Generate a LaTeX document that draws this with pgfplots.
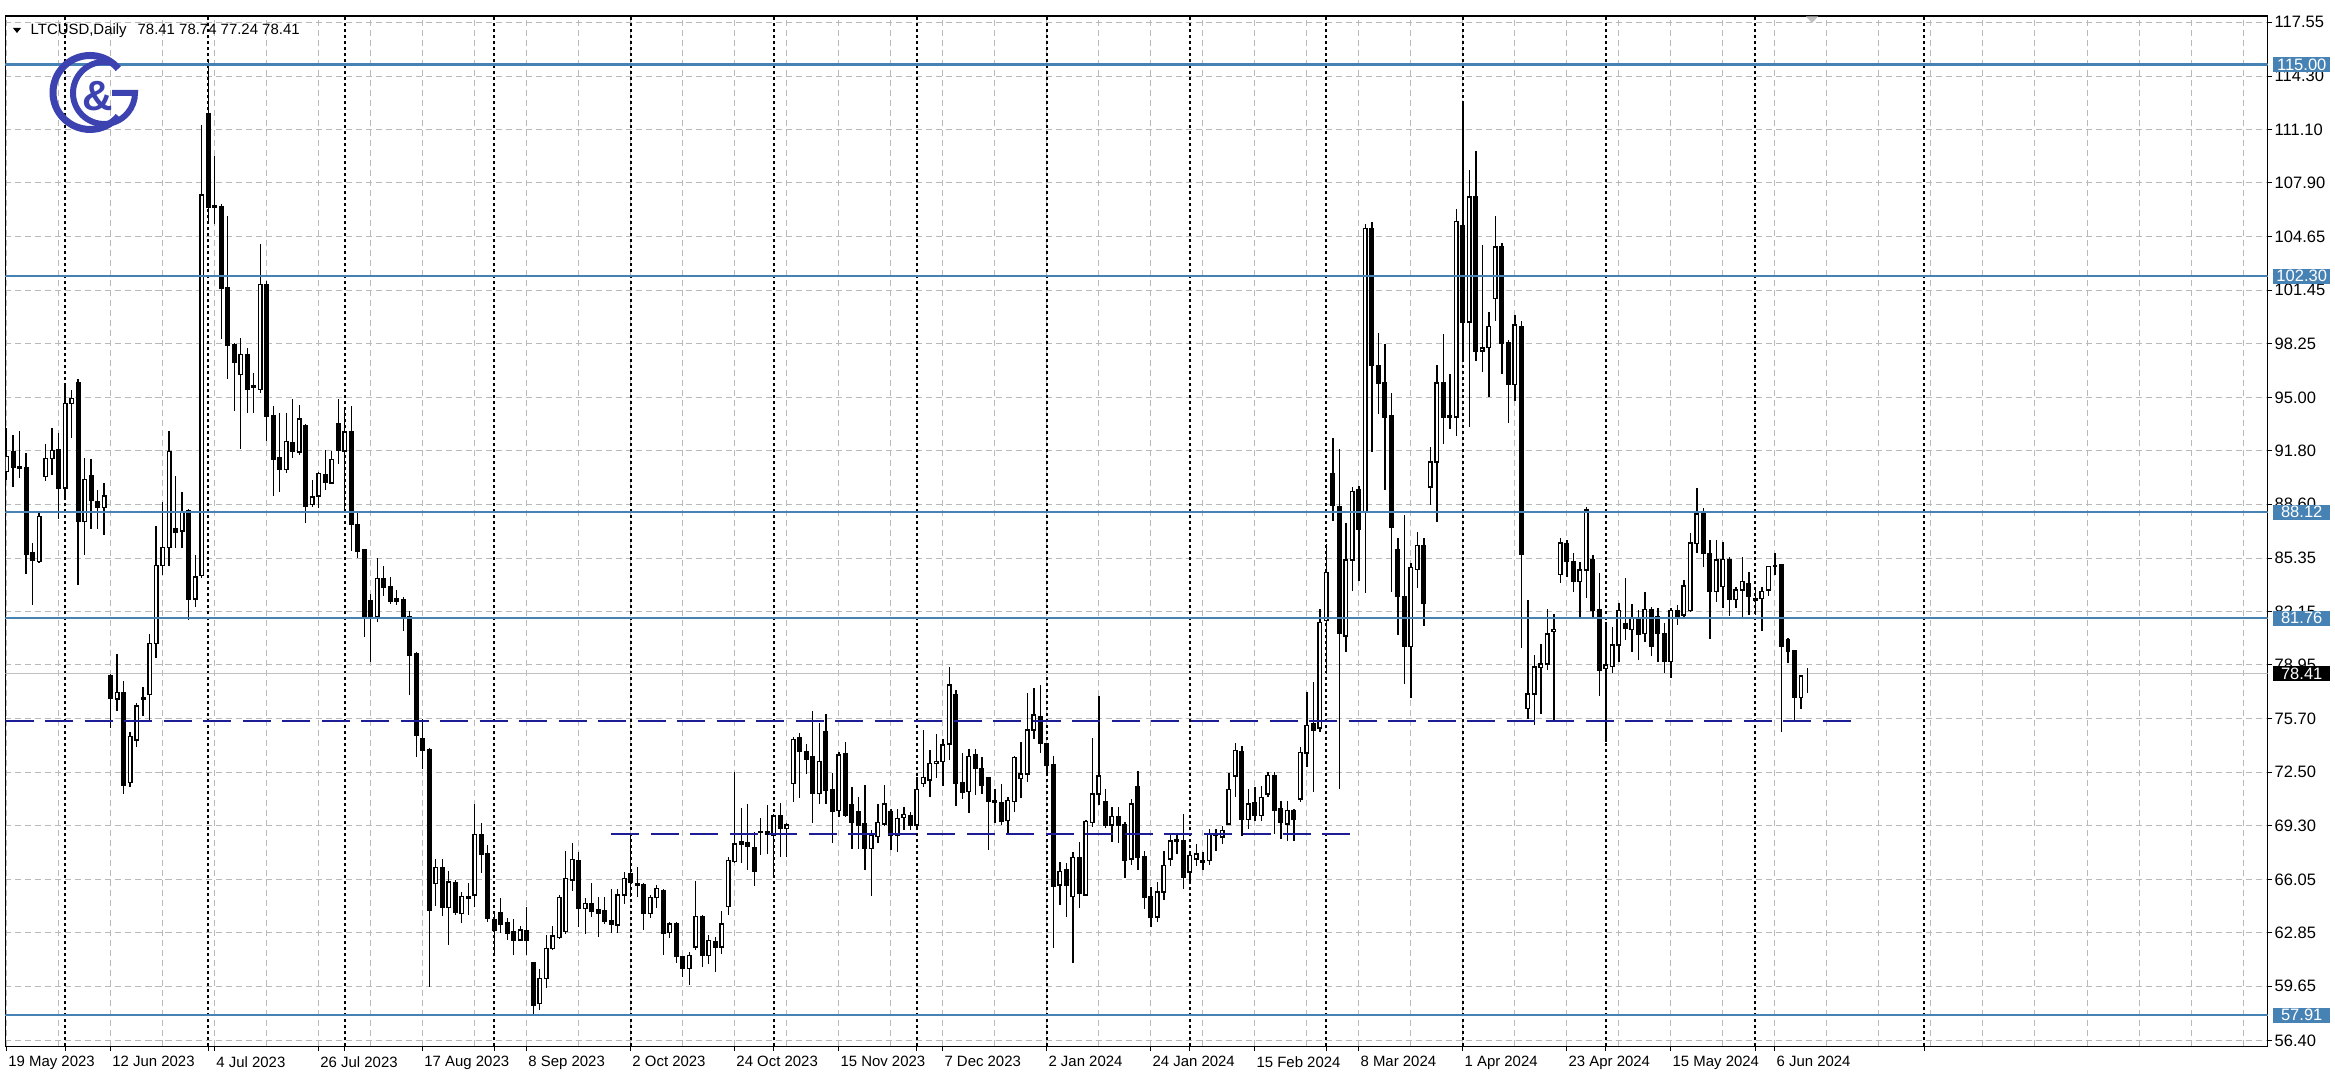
\documentclass[border=0pt]{standalone}
\usepackage{fontspec}
\setmainfont{Liberation Sans}
\usepackage{pgfplots}
\usepackage{pgfplotstable}
\pgfplotsset{compat=1.18}

\definecolor{lvl}{RGB}{70,130,180}
\definecolor{trend}{RGB}{28,28,150}
\definecolor{gridc}{RGB}{185,185,185}
\definecolor{logo}{RGB}{60,66,176}
\definecolor{lastp}{RGB}{192,192,192}
\newcommand{\mtfont}{\fontsize{4.25}{5}\selectfont}
\newcommand{\pxfont}{\fontsize{4.7}{5}\selectfont}

\pgfplotsset{
    frame/.style={at={(0,0)}, anchor=south west, scale only axis,
        width=226.22mm, height=103.05mm,
        xmin=-0.18, xmax=347.8, ymin=56.03, ymax=117.92},
}

% daily bars, index = trading day from 19 May 2023
\pgfplotstableread{
i o h l c
0 90.58 93.17 90.07 91.46
1 91.75 92.73 89.63 90.81
2 90.87 93.00 90.20 90.75
3 90.81 91.70 84.38 85.56
4 85.70 86.24 82.55 85.20
5 85.15 88.16 85.06 87.86
6 90.28 92.23 90.00 91.34
7 91.34 93.17 90.37 91.84
8 91.90 92.88 87.72 89.57
9 89.57 95.83 89.04 94.65
10 94.65 95.47 92.58 94.94
11 95.88 96.12 83.73 87.57
12 87.57 91.40 85.56 90.07
13 90.34 91.34 87.12 88.81
14 88.75 89.48 87.12 88.40
15 88.40 89.87 86.74 89.10
16 78.27 78.42 75.18 76.95
17 76.90 79.60 76.20 77.30
18 77.30 77.98 71.20 71.70
19 71.87 74.90 71.60 74.65
20 74.44 76.65 74.00 76.47
21 76.90 77.60 75.90 77.00
22 77.18 80.78 75.50 80.25
23 80.25 87.27 79.37 84.92
24 84.90 88.75 84.32 86.00
25 86.00 93.00 84.90 91.75
26 87.10 90.28 85.94 86.90
27 86.98 89.34 85.94 88.10
28 88.22 88.30 81.67 82.90
29 82.90 85.56 82.40 84.23
30 84.32 111.40 84.17 107.18
31 112.05 115.20 105.40 106.45
32 106.50 109.50 105.40 106.40
33 106.45 106.60 98.50 101.58
34 101.58 105.90 96.10 98.13
35 98.20 98.30 94.20 97.15
36 96.40 98.60 91.90 97.60
37 97.60 98.00 94.10 95.50
38 95.70 96.50 94.10 95.60
39 95.50 104.20 95.30 101.80
40 101.80 102.00 92.40 93.90
41 93.90 94.50 89.10 91.28
42 91.40 94.10 89.35 90.70
43 90.70 94.10 90.50 92.35
44 92.30 94.90 91.40 91.80
45 91.74 94.56 91.53 93.72
46 93.33 93.40 87.48 88.50
47 88.58 90.05 88.45 89.02
48 89.10 90.56 88.40 90.45
49 90.40 91.84 89.48 89.94
50 89.86 91.79 89.79 91.28
51 93.46 94.90 91.00 91.84
52 91.79 94.36 88.30 92.94
53 92.94 94.50 85.76 87.37
54 87.37 88.20 85.37 85.76
55 85.84 85.89 80.63 81.83
56 82.80 83.20 79.10 81.83
57 81.83 85.37 81.52 84.14
58 84.14 84.86 83.06 83.63
59 83.63 84.22 82.60 82.76
60 82.90 83.45 82.55 82.76
61 82.89 83.00 80.96 81.83
62 81.83 82.17 77.16 79.52
63 79.60 79.73 73.44 74.72
64 74.54 75.67 72.67 73.82
65 73.87 73.95 59.58 64.20
66 65.82 67.28 64.46 66.77
67 66.77 67.28 63.87 64.38
68 64.38 66.59 62.14 65.92
69 65.87 66.00 63.94 64.07
70 64.02 65.33 63.42 65.03
71 64.95 65.83 63.92 65.05
72 65.13 70.59 64.42 68.77
73 68.77 69.43 66.47 67.59
74 67.59 68.13 63.52 63.72
75 63.66 64.13 61.52 62.98
76 64.06 64.93 62.86 63.38
77 63.46 63.72 62.42 62.82
78 62.92 63.66 61.52 62.42
79 62.42 63.26 62.38 63.02
80 62.98 64.38 61.52 62.42
81 61.06 61.10 57.85 58.50
82 58.60 60.70 58.20 60.12
83 60.12 62.72 59.52 61.92
84 61.90 63.26 61.80 62.66
85 62.58 65.13 62.46 64.98
86 62.92 67.79 62.78 66.13
87 66.03 68.27 65.39 67.27
88 67.19 67.73 63.22 64.33
89 64.33 64.93 62.78 64.63
90 64.63 65.83 63.82 64.12
91 64.26 64.98 62.58 64.02
92 64.18 64.98 63.38 63.52
93 63.58 65.46 62.86 63.38
94 63.32 65.46 62.86 65.13
95 65.13 66.53 64.58 66.13
96 66.39 68.77 64.98 65.89
97 65.83 66.79 65.03 65.73
98 65.73 65.83 63.02 64.02
99 64.02 65.13 63.72 64.98
100 64.98 65.73 64.33 65.53
101 65.39 65.46 61.52 62.82
102 62.86 63.52 62.52 63.38
103 63.38 63.52 61.02 61.42
104 61.42 61.46 60.22 60.72
105 60.72 61.70 59.70 61.50
106 62.00 65.98 61.82 63.82
107 63.82 63.90 60.80 61.50
108 61.50 62.70 61.00 62.40
109 62.30 62.60 60.50 62.00
110 62.00 64.18 61.60 63.38
111 64.42 67.39 63.92 67.19
112 67.13 72.53 67.03 68.19
113 68.30 70.33 67.03 68.20
114 68.27 70.59 66.63 68.03
115 67.99 68.93 65.67 66.53
116 68.90 69.73 67.53 68.95
117 68.80 70.53 67.59 68.90
118 68.73 69.99 66.13 69.87
119 69.87 70.67 67.43 69.13
120 69.13 69.43 67.39 69.33
121 71.83 74.59 70.73 74.47
122 74.59 74.87 70.93 73.73
123 73.73 74.20 72.39 73.27
124 73.43 76.20 69.47 71.23
125 71.23 75.44 70.59 73.13
126 74.94 76.00 70.59 71.43
127 71.47 72.47 68.27 70.13
128 70.19 73.73 69.83 73.53
129 73.59 74.33 69.83 69.93
130 70.53 71.59 67.87 69.47
131 70.13 70.99 67.87 69.33
132 69.43 71.73 66.63 67.93
133 67.93 69.03 65.07 68.73
134 68.63 70.59 68.23 69.47
135 69.39 71.73 69.27 70.59
136 70.13 70.27 67.83 68.73
137 68.73 70.27 67.73 69.73
138 69.80 70.43 69.03 69.95
139 69.87 70.13 69.03 69.33
140 69.33 72.19 69.23 71.47
141 71.83 75.04 71.63 72.19
142 72.03 73.83 71.03 73.03
143 73.03 74.79 72.13 73.13
144 73.13 74.47 71.67 74.13
145 74.19 78.84 73.23 77.74
146 77.14 77.44 70.47 71.83
147 71.87 73.63 70.87 71.27
148 71.33 73.87 70.07 73.43
149 73.53 73.87 71.13 72.73
150 72.73 73.43 71.19 71.73
151 72.19 72.19 67.83 70.73
152 70.79 71.47 69.43 70.67
153 70.67 71.79 69.33 69.53
154 69.59 71.03 68.79 70.79
155 70.73 73.47 70.13 73.39
156 72.13 74.33 70.93 72.39
157 72.39 77.28 71.93 75.04
158 75.04 77.54 74.47 75.94
159 75.84 77.74 73.67 74.23
160 74.19 74.23 72.47 72.93
161 72.93 73.47 61.92 65.67
162 65.73 67.13 64.53 66.53
163 66.63 67.03 63.82 65.73
164 65.03 67.73 61.02 67.39
165 67.39 68.33 64.33 65.23
166 65.13 69.63 65.07 69.53
167 69.47 74.53 69.23 71.19
168 71.19 77.08 70.53 72.27
169 70.73 71.47 69.13 69.33
170 69.33 70.43 68.33 69.83
171 69.83 70.43 68.23 69.33
172 69.33 69.50 66.13 67.23
173 67.30 70.90 66.90 70.59
174 71.66 72.57 66.60 67.39
175 67.40 67.80 64.30 65.00
176 65.00 65.60 63.20 63.80
177 63.80 65.90 63.50 65.30
178 65.30 67.80 64.80 66.90
179 67.30 68.75 66.90 68.38
180 68.35 68.75 67.60 68.42
181 68.38 70.00 65.50 66.20
182 66.50 67.70 65.90 67.50
183 67.30 68.20 66.90 67.60
184 67.10 67.70 66.60 67.20
185 67.20 69.10 66.90 68.75
186 68.70 69.10 67.80 68.80
187 68.60 69.30 68.20 69.00
188 69.40 72.45 69.33 71.47
189 72.27 74.27 71.00 73.80
190 73.74 74.10 68.70 69.68
191 69.68 71.50 69.10 70.60
192 70.70 71.60 69.60 69.90
193 69.90 71.70 69.60 71.00
194 71.20 72.50 71.00 72.30
195 72.27 72.50 68.80 70.20
196 70.30 70.80 68.50 69.50
197 69.40 70.80 68.40 70.20
198 70.20 70.30 68.40 69.70
199 70.90 74.00 70.70 73.70
200 73.65 77.30 72.80 75.30
201 75.40 77.90 71.30 75.00
202 75.16 82.30 74.90 81.50
203 81.60 86.20 78.40 84.50
204 90.42 92.57 87.61 88.55
205 88.47 91.90 71.50 80.85
206 80.69 87.47 79.70 85.25
207 85.25 89.62 83.37 89.35
208 89.49 89.70 83.99 87.07
209 88.09 105.44 83.27 105.17
210 105.17 105.57 91.76 96.94
211 96.94 98.87 94.04 95.87
212 95.87 98.20 89.48 93.83
213 93.91 95.25 83.32 87.20
214 85.87 86.59 80.77 83.07
215 83.07 87.93 77.82 80.05
216 80.05 85.06 76.94 84.79
217 84.66 86.94 83.59 86.13
218 86.13 86.59 81.31 82.65
219 89.62 92.03 88.55 91.14
220 91.14 96.94 87.55 95.87
221 95.87 98.81 92.22 93.83
222 93.90 96.40 93.10 93.83
223 93.83 106.32 92.70 105.57
224 105.30 112.68 97.26 99.54
225 99.54 108.65 93.24 107.05
226 107.05 109.81 97.21 97.80
227 97.80 104.18 96.51 97.97
228 98.01 100.16 95.06 99.27
229 100.96 105.89 99.62 104.04
230 104.04 104.28 96.40 98.28
231 98.28 98.47 93.45 95.79
232 95.79 99.94 94.79 99.35
233 99.27 99.62 79.97 85.60
234 76.33 82.84 75.68 77.20
235 77.20 79.54 75.33 78.81
236 78.80 80.20 76.00 78.99
237 79.00 82.30 78.63 80.80
238 80.95 82.00 75.57 81.09
239 84.39 86.54 83.86 86.27
240 86.20 86.44 84.24 85.14
241 85.14 85.64 83.34 83.94
242 83.94 85.14 81.74 84.64
243 84.64 88.45 82.94 88.25
244 85.24 85.54 81.74 82.24
245 82.24 84.44 77.07 78.64
246 78.74 81.54 74.33 78.94
247 78.84 81.24 78.44 80.14
248 80.14 82.64 79.14 82.20
249 81.44 84.14 80.44 81.14
250 81.08 82.60 79.74 81.80
251 81.80 82.24 79.24 80.80
252 80.84 83.34 80.34 82.28
253 82.28 82.44 79.48 80.04
254 81.84 82.34 79.14 80.84
255 80.84 81.44 78.44 79.14
256 79.14 82.34 78.14 82.20
257 82.20 82.54 81.34 81.88
258 81.94 84.04 81.74 83.68
259 82.20 86.84 82.15 86.28
260 86.24 89.55 85.64 88.00
261 88.00 88.35 84.84 85.64
262 85.64 86.44 80.48 83.34
263 83.34 86.44 82.74 85.24
264 83.64 86.34 82.34 85.28
265 85.28 85.44 81.88 82.88
266 82.88 83.64 82.34 83.44
267 83.44 85.44 81.84 83.94
268 83.84 84.54 81.94 83.04
269 82.94 83.64 81.94 82.84
270 82.94 83.64 81.00 83.34
271 83.44 84.88 83.08 84.84
272 84.86 85.64 84.34 84.92
273 84.94 85.00 74.93 80.04
274 80.48 80.54 79.08 79.74
275 79.80 79.80 75.53 77.00
276 77.00 78.34 76.28 78.28
277 78.41 78.74 77.24 78.41
}\ohlc

\begin{document}
\begin{tikzpicture}
% frame, grid, scales, wicks
\begin{axis}[
    frame,
    axis line style={black, line width=0.15mm},
    tick style={black, line width=0.1mm},
    tick align=outside, major tick length=0.45mm, minor tick length=0pt,
    xtick pos=bottom, ytick pos=right, yticklabel pos=right,
    xtick={0,16,...,272},
    xticklabels={19 May 2023,12 Jun 2023,4 Jul 2023,26 Jul 2023,17 Aug 2023,8 Sep 2023,2 Oct 2023,24 Oct 2023,15 Nov 2023,7 Dec 2023,2 Jan 2024,24 Jan 2024,15 Feb 2024,8 Mar 2024,1 Apr 2024,23 Apr 2024,15 May 2024,6 Jun 2024},
    minor xtick={8,24,40,56,72,88,104,120,136,152,168,184,200,216,232,248,264,280,288,296,304,312,320,328,336,344},
    ytick={56.40,59.65,62.85,66.05,69.30,72.50,75.70,78.95,82.15,85.35,88.60,91.80,95.00,98.25,101.45,104.65,107.90,111.10,114.30,117.55},
    yticklabels={56.40,59.65,62.85,66.05,69.30,72.50,75.70,78.95,82.15,85.35,88.60,91.80,95.00,98.25,101.45,104.65,107.90,111.10,114.30,117.55},
    xmajorgrids, xminorgrids, ymajorgrids,
    major grid style={gridc, line width=0.1mm, dash pattern=on 0.6mm off 0.4mm},
    minor grid style={gridc, line width=0.1mm, dash pattern=on 0.6mm off 0.4mm},
    xticklabel style={font=\mtfont, anchor=north west, inner sep=0pt, xshift=0.1mm, yshift=-0.45mm},
    yticklabel style={font=\pxfont, anchor=west, inner sep=0pt, xshift=0.18mm},
    extra x ticks={9,31,52,75,96,118,140,160,182,203,224,246,269,295},
    extra x tick style={grid=major, xticklabel={},
        major grid style={black, line width=0.2mm, dash pattern=on 0.3mm off 0.3mm}},
    extra y ticks={57.91,81.76,88.12,102.30,115.00},
    extra y tick labels={57.91,81.76,88.12,102.30,115.00},
    extra y tick style={major tick length=0pt,
        yticklabel style={fill=lvl, text=white, minimum width=5.66mm, minimum height=1.5mm,
        inner sep=0pt, anchor=west, xshift=0.32mm}},
]
\addplot[lastp, line width=0.1mm, forget plot] coordinates {(-0.18,78.41) (347.8,78.41)};
\addplot[draw=none, mark=none, forget plot,
    error bars/.cd, y dir=both, y explicit, error mark=none,
    error bar style={draw=black, solid, line width=0.14mm}]
    table[x=i, y expr={(\thisrow{h}+\thisrow{l})/2}, y error expr={(\thisrow{h}-\thisrow{l})/2}] {\ohlc};
\end{axis}
% candle bodies: invisible base up to min(open,close), then bull / bear part
\begin{axis}[frame, hide axis, ybar stacked, bar width=0.35mm]
\addplot[draw=none, fill=none] table[x=i, y expr={min(\thisrow{o},\thisrow{c})}] {\ohlc};
\addplot[draw=black, fill=white, line width=0.14mm] table[x=i, y expr={max(\thisrow{c}-\thisrow{o},0)}] {\ohlc};
\addplot[draw=black, fill=black, line width=0.14mm] table[x=i, y expr={max(\thisrow{o}-\thisrow{c},0)}] {\ohlc};
\end{axis}
% levels and supports on top
\begin{axis}[frame, hide axis]
\addplot[lvl, line width=0.22mm] coordinates {(-0.18,115.00) (347.8,115.00)};
\addplot[lvl, line width=0.22mm] coordinates {(-0.18,102.30) (347.8,102.30)};
\addplot[lvl, line width=0.22mm] coordinates {(-0.18,88.12) (347.8,88.12)};
\addplot[lvl, line width=0.22mm] coordinates {(-0.18,81.76) (347.8,81.76)};
\addplot[lvl, line width=0.22mm] coordinates {(-0.18,57.91) (347.8,57.91)};
\addplot[trend, line width=0.22mm, dash pattern=on 2.8mm off 1.15mm] coordinates {(-0.18,75.57) (283.9,75.57)};
\addplot[trend, line width=0.22mm, dash pattern=on 2.8mm off 1.15mm] coordinates {(93,68.77) (208,68.77)};
\coordinate (lp) at (axis cs:347.8,78.41);
\end{axis}
% last price label
\node[fill=black, text=white, font=\pxfont, minimum width=5.66mm, minimum height=1.5mm,
      inner sep=0pt, anchor=west] at ([xshift=0.5mm]lp) {78.41};
% title
\fill[black] (0.75mm,101.85mm) -- (1.55mm,101.85mm) -- (1.15mm,101.35mm) -- cycle;
\node[font=\mtfont, anchor=base west, inner sep=0pt] at (2.45mm,101.15mm)
    {LTCUSD,Daily\hspace{1.1mm}78.41 78.74 77.24 78.41};
% chart shift marker
\fill[lastp] (180.05mm,103.0mm) -- (181.25mm,103.0mm) -- (180.65mm,102.35mm) -- cycle;
% logo
\draw[logo, line width=0.7mm] (8.45mm,95.4mm) ++(40:3.7mm) arc[start angle=40, end angle=320, radius=3.7mm];
\draw[logo, line width=0.6mm] (9.85mm,95.35mm) ++(80:3.1mm) arc[start angle=80, end angle=360, radius=3.1mm] -- ++(-2.3mm,0);
\node[logo, font=\fontsize{12}{12}\selectfont\bfseries, inner sep=0pt] at (9.25mm,95.05mm) {\&};
% page size as in the reference
\pgfresetboundingbox
\path (-0.55mm,-4.25mm) rectangle (232.95mm,104.65mm);
\end{tikzpicture}
\end{document}
